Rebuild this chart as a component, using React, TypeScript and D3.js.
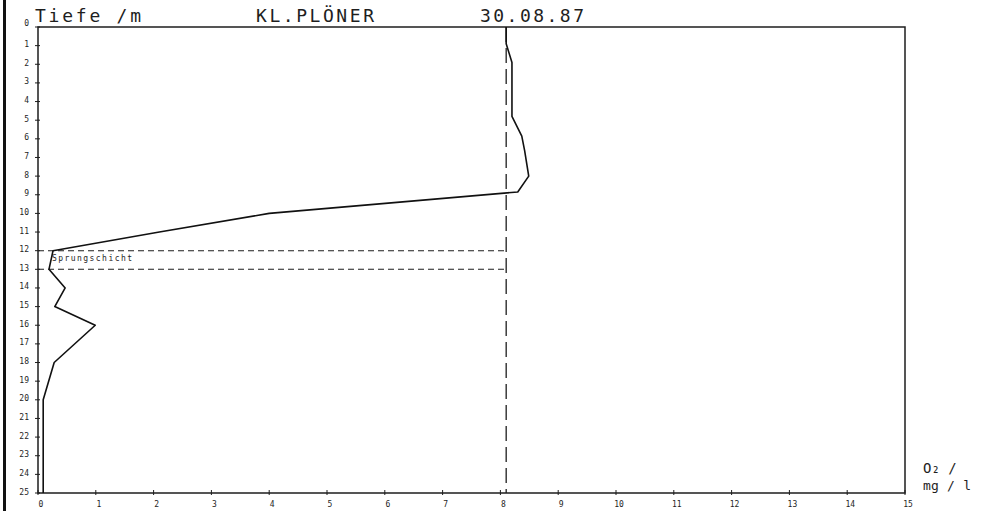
import { useEffect, useRef } from 'react'
import * as d3 from 'd3'

// O2 profile, Kleiner Plöner See, 30.08.87
const depths = [0, 0.9, 1.9, 4.8, 5.85, 6.65, 8.0, 8.85, 10, 11, 12, 13, 14, 15, 16, 18, 20, 25]
const oxygen = [8.1, 8.1, 8.2, 8.2, 8.37, 8.42, 8.49, 8.3, 4.0, 2.1, 0.26, 0.19, 0.47, 0.29, 0.99, 0.28, 0.09, 0.09]

const depthTicks = d3.range(0, 26)
const oxygenTicks = d3.range(0, 16)
const saturation = 8.1
const layerBounds = [12, 13]

const FONT = "'DejaVu Sans Mono', monospace"
const INK = '#1e1e1e'

export default function App() {
  const svgRef = useRef<SVGSVGElement>(null)

  useEffect(() => {
    const width = 987, height = 511
    const svg = d3.select(svgRef.current)
    svg.selectAll('*').remove()
    svg.attr('width', width).attr('height', height).style('background', '#fff')

    const x = d3.scaleLinear().domain([0, 15]).range([38, 905])
    const y = d3.scaleLinear().domain([0, 25]).range([27, 493])

    // scan edge on the left
    svg.append('rect').attr('x', 3).attr('y', 0).attr('width', 3).attr('height', height).attr('fill', '#111')

    // frame
    svg.append('path')
      .attr('d', `M${x(0)},${y(25)}V${y(0)}H${x(15)}V${y(25)}Z`)
      .attr('fill', 'none')
      .attr('stroke', INK)
      .attr('stroke-width', 1.5)

    // depth ticks + labels
    svg.selectAll('.ytick').data(depthTicks).enter().append('line')
      .attr('x1', x(0) - 3).attr('x2', x(0) + 2)
      .attr('y1', d => y(d)).attr('y2', d => y(d))
      .attr('stroke', INK).attr('stroke-width', 1)

    svg.selectAll('.ylab').data(depthTicks).enter().append('text')
      .text(d => d)
      .attr('x', 29)
      .attr('y', d => (d === 0 ? y(d) - 4 : y(d) - 1))
      .attr('text-anchor', 'end')
      .attr('dominant-baseline', 'middle')
      .attr('font-family', FONT)
      .attr('font-size', 8)
      .attr('fill', INK)

    // oxygen ticks + labels
    svg.selectAll('.xtick').data(oxygenTicks).enter().append('line')
      .attr('x1', d => x(d)).attr('x2', d => x(d))
      .attr('y1', y(25) - 3).attr('y2', y(25) + 2)
      .attr('stroke', INK).attr('stroke-width', 1)

    svg.selectAll('.xlab').data(oxygenTicks).enter().append('text')
      .text(d => d)
      .attr('x', d => x(d) + 3)
      .attr('y', 507)
      .attr('text-anchor', 'middle')
      .attr('font-family', FONT)
      .attr('font-size', 8)
      .attr('fill', INK)

    // saturation line
    svg.append('line')
      .attr('x1', x(saturation)).attr('x2', x(saturation))
      .attr('y1', y(0)).attr('y2', y(25))
      .attr('stroke', INK).attr('stroke-width', 1.3)
      .attr('stroke-dasharray', '15 6')

    // Sprungschicht bounds
    layerBounds.forEach(d => {
      svg.append('line')
        .attr('x1', x(0)).attr('x2', x(saturation))
        .attr('y1', y(d)).attr('y2', y(d))
        .attr('stroke', INK).attr('stroke-width', 1.1)
        .attr('stroke-dasharray', '6 4')
    })

    svg.append('text')
      .text('Sprungschicht')
      .attr('x', 52).attr('y', 261)
      .attr('textLength', 80)
      .attr('lengthAdjust', 'spacing')
      .attr('font-family', FONT)
      .attr('font-size', 8)
      .attr('fill', INK)

    // profile
    const line = d3.line<number>()
      .x((_, i) => x(oxygen[i]))
      .y(d => y(d))

    svg.append('path')
      .attr('d', line(depths))
      .attr('fill', 'none')
      .attr('stroke', '#111')
      .attr('stroke-width', 1.6)
      .attr('stroke-linejoin', 'round')

    // titles
    const title = (t, tx, len) => svg.append('text')
      .text(t)
      .attr('x', tx).attr('y', 22)
      .attr('textLength', len)
      .attr('lengthAdjust', 'spacing')
      .attr('font-family', FONT)
      .attr('font-size', 18)
      .attr('fill', INK)

    title('Tiefe /m', 35, 106)
    title('KL.PLÖNER', 256, 118)
    title('30.08.87', 480, 104)

    // unit label
    svg.append('text')
      .attr('x', 923).attr('y', 473)
      .attr('font-family', FONT).attr('font-size', 14).attr('fill', INK)
      .text('O₂ /')
    svg.append('text')
      .attr('x', 923).attr('y', 490)
      .attr('textLength', 48)
      .attr('lengthAdjust', 'spacing')
      .attr('font-family', FONT).attr('font-size', 13).attr('fill', INK)
      .text('mg / l')
  }, [])

  return (
    <div style={{ position: 'absolute', left: 0, top: 0 }}>
      <svg ref={svgRef} />
    </div>
  )
}
